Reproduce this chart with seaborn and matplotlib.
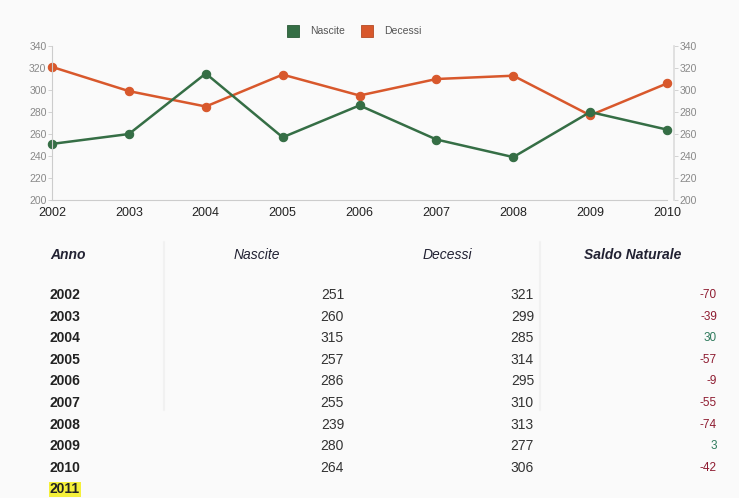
import matplotlib
matplotlib.use("Agg")
import matplotlib.pyplot as plt
import seaborn as sns
import pandas as pd
from matplotlib.patches import Rectangle
from matplotlib.lines import Line2D

# Annual births and deaths
anni = [2002, 2003, 2004, 2005, 2006, 2007, 2008, 2009, 2010]
nascite = [251, 260, 315, 257, 286, 255, 239, 280, 264]
decessi = [321, 299, 285, 314, 295, 310, 313, 277, 306]
anno_extra = 2011
y_ticks = [200, 220, 240, 260, 280, 300, 320, 340]

saldo = [n - d for n, d in zip(nascite, decessi)]

GREEN = "#356e45"
ORANGE = "#d8582c"
BG = "#fafafa"

sns.set_theme(style="white")
plt.rcParams["font.family"] = ["Liberation Sans", "DejaVu Sans"]

df = pd.DataFrame({"Anno": anni * 2,
                   "Valore": nascite + decessi,
                   "Serie": ["Nascite"] * len(anni) + ["Decessi"] * len(anni)})

fig = plt.figure(figsize=(7.39, 4.98), dpi=100, facecolor=BG)
ax = fig.add_axes([0.0704, 0.5984, 0.8322, 0.3092], facecolor=BG)

sns.lineplot(data=df, x="Anno", y="Valore", hue="Serie",
             palette={"Nascite": GREEN, "Decessi": ORANGE},
             hue_order=["Decessi", "Nascite"],
             marker="o", markersize=6, linewidth=1.8, markeredgewidth=0.8,
             legend=False, ax=ax, clip_on=False)
for ln in ax.lines:
    ln.set_markeredgecolor(ln.get_color())

ax.set_xlim(anni[0], anni[-1])
ax.set_ylim(y_ticks[0], y_ticks[-1])
ax.set_xticks(anni)
ax.set_xticklabels([str(a) for a in anni])
ax.set_yticks(y_ticks)
ax.set_xlabel("")
ax.set_ylabel("")
for s in ["top", "right"]:
    ax.spines[s].set_visible(False)
for s in ["left", "bottom"]:
    ax.spines[s].set_color("#cccccc")
    ax.spines[s].set_linewidth(0.8)
ax.tick_params(axis="y", length=3, width=0.6, color="#cccccc", pad=1,
               labelsize=7.5, labelcolor="#888888")
ax.tick_params(axis="x", length=3, width=0.6, color="#cccccc", pad=2,
               labelsize=9, labelcolor="#222222")

ax2 = ax.twinx()
ax2.set_ylim(y_ticks[0], y_ticks[-1])
ax2.set_yticks(y_ticks)
for s in ["top", "left", "bottom"]:
    ax2.spines[s].set_visible(False)
ax2.spines["right"].set_color("#dddddd")
ax2.spines["right"].set_position(("outward", 5))
ax2.tick_params(axis="y", length=3, width=0.6, color="#cccccc", pad=1,
                labelsize=7.5, labelcolor="#888888")
ax2.grid(False)

# Legend
fig.patches.append(Rectangle((287 / 739, 1 - 37 / 498), 12 / 739, 12 / 498,
                             transform=fig.transFigure, facecolor=GREEN,
                             edgecolor="#2a5a36", linewidth=0.6))
fig.text(310 / 739, 1 - 31 / 498, "Nascite", fontsize=7.5, color="#555555",
         va="center", ha="left")
fig.patches.append(Rectangle((361 / 739, 1 - 37 / 498), 12 / 739, 12 / 498,
                             transform=fig.transFigure, facecolor=ORANGE,
                             edgecolor="#b54a24", linewidth=0.6))
fig.text(384 / 739, 1 - 31 / 498, "Decessi", fontsize=7.5, color="#555555",
         va="center", ha="left")

# Table below the chart
def fy(py):
    return 1 - py / 498

def fx(px):
    return px / 739

hdr_y = fy(255)
fig.text(fx(50), hdr_y, "Anno", fontsize=10, fontstyle="italic",
         fontweight="bold", color="#222233", va="center", ha="left")
fig.text(fx(257), hdr_y, "Nascite", fontsize=10, fontstyle="italic",
         color="#222233", va="center", ha="center")
fig.text(fx(447), hdr_y, "Decessi", fontsize=10, fontstyle="italic",
         color="#222233", va="center", ha="center")
fig.text(fx(633), hdr_y, "Saldo Naturale", fontsize=10, fontstyle="italic",
         fontweight="bold", color="#222233", va="center", ha="center")

for xp in (164, 540):
    fig.add_artist(Line2D([fx(xp), fx(xp)], [fy(242), fy(410)],
                          transform=fig.transFigure, color="#f1f1f1",
                          linewidth=1.5))

row0, step = 295, 21.6
for i, a in enumerate(anni):
    yy = fy(row0 + i * step)
    fig.text(fx(50), yy, str(a), fontsize=10, fontweight="bold",
             color="#222222", va="center", ha="left")
    fig.text(fx(344), yy, str(nascite[i]), fontsize=10, color="#333333",
             va="center", ha="right")
    fig.text(fx(534), yy, str(decessi[i]), fontsize=10, color="#333333",
             va="center", ha="right")
    col = "#2e7a5c" if saldo[i] > 0 else "#8e1b30"
    fig.text(fx(717), yy, str(saldo[i]), fontsize=8.5, color=col,
             va="center", ha="right")

fig.text(fx(50), fy(row0 + len(anni) * step), str(anno_extra), fontsize=10,
         fontweight="bold", color="#222222", va="center", ha="left",
         bbox=dict(boxstyle="square,pad=0.05", facecolor="#f5f03a",
                   edgecolor="none"))

fig.savefig("out.png", dpi=100, facecolor=BG)
